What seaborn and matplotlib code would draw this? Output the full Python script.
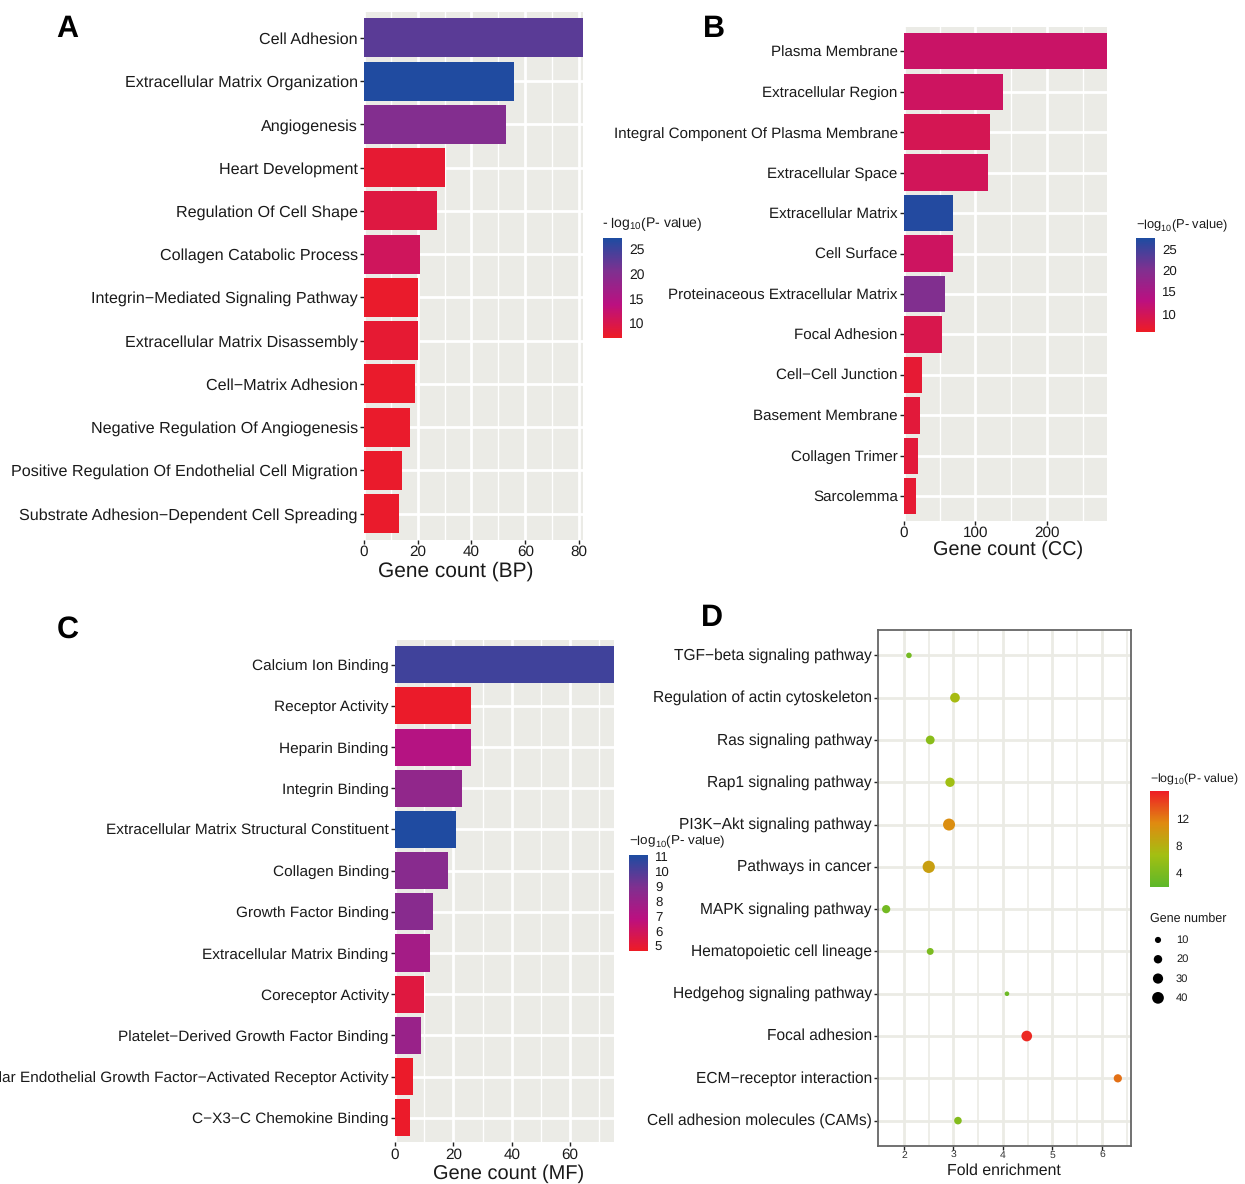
import pandas as pd
import seaborn as sns
import matplotlib.pyplot as plt
from matplotlib.cm import ScalarMappable
from matplotlib.colors import LinearSegmentedColormap, Normalize
from matplotlib.transforms import ScaledTranslation

sns.set_style('white')
plt.rcParams['font.family'] = ['Liberation Sans', 'DejaVu Sans']
plt.rcParams['mathtext.default'] = 'regular'
plt.rcParams['text.hinting'] = 'no_hinting'

W, H = 1245, 1184

# panel A
bp_terms = ['Cell Adhesion', 'Extracellular Matrix Organization', 'Angiogenesis', 'Heart Development',
            'Regulation Of Cell Shape', 'Collagen Catabolic Process', 'Integrin−Mediated Signaling Pathway',
            'Extracellular Matrix Disassembly', 'Cell−Matrix Adhesion', 'Negative Regulation Of Angiogenesis',
            'Positive Regulation Of Endothelial Cell Migration', 'Substrate Adhesion−Dependent Cell Spreading']
bp_counts = [81.5, 56, 53, 30, 27, 21, 20, 20, 19, 17, 14, 13]
bp_logp = [23, 27, 20, 8, 9, 11, 7.5, 8, 7.5, 7.5, 7.5, 7.5]

# panel B
cc_terms = ['Plasma Membrane', 'Extracellular Region', 'Integral Component Of Plasma Membrane',
            'Extracellular Space', 'Extracellular Matrix', 'Cell Surface', 'Proteinaceous Extracellular Matrix',
            'Focal Adhesion', 'Cell−Cell Junction', 'Basement Membrane', 'Collagen Trimer', 'Sarcolemma']
cc_counts = [284, 139, 120, 118, 68, 68, 57, 53, 25, 22, 20, 17]
cc_logp = [11, 10.5, 9.5, 10, 27, 10.5, 20, 9, 7, 7.5, 7.5, 7]

# panel C
mf_terms = ['Calcium Ion Binding', 'Receptor Activity', 'Heparin Binding', 'Integrin Binding',
            'Extracellular Matrix Structural Constituent', 'Collagen Binding', 'Growth Factor Binding',
            'Extracellular Matrix Binding', 'Coreceptor Activity', 'Platelet−Derived Growth Factor Binding',
            'Vascular Endothelial Growth Factor−Activated Receptor Activity', 'C−X3−C Chemokine Binding']
mf_counts = [75, 26, 26, 23, 21, 18, 13, 12, 10, 9, 6, 5]
mf_logp = [10.3, 4.8, 7, 8.3, 11, 8.6, 8.6, 7.6, 5.3, 8, 4.8, 4.8]

# panel D
kegg_terms = ['TGF−beta signaling pathway', 'Regulation of actin cytoskeleton', 'Ras signaling pathway',
              'Rap1 signaling pathway', 'PI3K−Akt signaling pathway', 'Pathways in cancer',
              'MAPK signaling pathway', 'Hematopoietic cell lineage', 'Hedgehog signaling pathway',
              'Focal adhesion', 'ECM−receptor interaction', 'Cell adhesion molecules (CAMs)']
kegg_enrich = [2.1, 3.03, 2.53, 2.93, 2.91, 2.5, 1.64, 2.53, 4.08, 4.48, 6.32, 3.09]
kegg_genes = [8, 27, 22, 25, 42, 44, 19, 13, 5, 33, 19, 16]
kegg_logp = [3.5, 7, 5, 6.5, 11, 9.5, 3.5, 4, 3, 15.5, 12.5, 4.5]
legend_genes = [10, 20, 30, 40]

bar_cmap = LinearSegmentedColormap.from_list('bars', ['#EE1C25', '#BB1080', '#7F3090', '#1D4CA1'])
dot_cmap = LinearSegmentedColormap.from_list('dots', ['#5DB82A', '#A3BF12', '#E08A10', '#EE1C25'])
TXT = '#1a1a1a'


def px_axes(left, top, right, bottom):
    return fig.add_axes([left / W, 1 - bottom / H, (right - left) / W, (bottom - top) / H])


def px_text(x, y, s, **kw):
    kw.setdefault('va', 'center')
    kw.setdefault('color', TXT)
    fig.text(x / W, 1 - y / H, s, **kw)


def bar_panel(box, terms, counts, logp, vmin, vmax, xmax, ticks, minor, xlabel, xlabel_pos, label_size, title_size):
    ax = px_axes(*box)
    norm = Normalize(vmin, vmax)
    df = pd.DataFrame({'term': terms, 'count': counts})
    sns.barplot(data=df, x='count', y='term', hue='term', palette=[bar_cmap(norm(v)) for v in logp],
                dodge=False, legend=False, width=0.9, saturation=1, linewidth=0, ax=ax)
    ax.set_facecolor('#EBEBE6')
    ax.set_axisbelow(True)
    ax.set_xlim(0, xmax)
    ax.set_ylim(11.6, -0.6)
    ax.set_xticks(ticks)
    ax.set_xticks(minor, minor=True)
    ax.grid(True, which='major', color='white', lw=2)
    ax.grid(True, which='minor', axis='x', color='white', lw=1)
    sns.despine(ax=ax, left=True, bottom=True, top=True, right=True)
    ax.tick_params(axis='y', which='major', length=3, width=1, color='#222222', labelsize=label_size,
                   labelcolor=TXT, pad=1.5, left=True)
    ax.tick_params(axis='x', which='major', length=3, width=1, color='#222222', labelsize=11,
                   labelcolor=TXT, pad=1, bottom=True)
    ax.tick_params(axis='x', which='minor', length=0)
    ax.set_xlabel('')
    ax.set_ylabel('')
    px_text(*xlabel_pos, xlabel, fontsize=title_size, ha='center')


def colorbar(box, cmap, vmin, vmax, ticks, title, title_pos, label_size, title_size):
    cax = px_axes(*box)
    cb = fig.colorbar(ScalarMappable(Normalize(vmin, vmax), cmap), cax=cax)
    cb.outline.set_visible(False)
    cb.set_ticks(ticks)
    cax.tick_params(which='both', left=True, right=True, direction='in', length=3, width=0.8,
                    color='white', labelsize=label_size, labelcolor=TXT, pad=5)
    cax.minorticks_off()
    px_text(*title_pos, title, fontsize=title_size)


fig = plt.figure(figsize=(W / 100, H / 100), dpi=100)

bar_panel((364, 12, 583, 539.5), bp_terms, bp_counts, bp_logp, 6.9, 27.3, 81.5,
          [0, 20, 40, 60, 80], [10, 30, 50, 70], 'Gene count (BP)', (456, 571), 11.6, 15)
bar_panel((904, 27, 1107, 520.5), cc_terms, cc_counts, cc_logp, 5.8, 27.5, 284,
          [0, 100, 200], [50, 150, 250], 'Gene count (CC)', (1008, 550), 10.9, 14.3)
bar_panel((395, 640, 614, 1142.4), mf_terms, mf_counts, mf_logp, 4.67, 11.07, 75,
          [0, 20, 40, 60], [10, 30, 50, 70], 'Gene count (MF)', (509, 1174), 11.07, 14.4)

colorbar((603, 238, 622, 338), bar_cmap, 6.9, 27.3, [10, 15, 20, 25], '- log$_{10}$(P- value)', (602, 224), 10, 10.1)
colorbar((1136, 238, 1155, 332), bar_cmap, 5.8, 27.5, [10, 15, 20, 25], '−log$_{10}$(P- value)', (1136, 226), 9.5, 9.3)
colorbar((629, 855, 648, 951), bar_cmap, 4.67, 11.07, [5, 6, 7, 8, 9, 10, 11], '−log$_{10}$(P- value)', (629, 842), 9.5, 9.7)
colorbar((1150, 791, 1169, 887), dot_cmap, 1.93, 16.1, [4, 8, 12], '−log$_{10}$(P- value)', (1150, 779), 8.5, 8.9)

# KEGG dot plot
ax = px_axes(878, 630, 1131, 1146)
kegg = pd.DataFrame({'term': kegg_terms, 'enrich': kegg_enrich, 'genes': kegg_genes, 'logp': kegg_logp})
dot_norm = Normalize(1.93, 16.1)
sns.scatterplot(data=kegg, x='enrich', y='term', size='genes', sizes=(11, 78), size_norm=(5, 44),
                hue='logp', hue_norm=dot_norm, palette=dot_cmap, legend=False, linewidth=0, alpha=1,
                zorder=3, ax=ax)
ax.set_xlim(1.475, 6.586)
ax.set_ylim(11.6, -0.6)
ax.set_xticks([2, 3, 4, 5, 6])
ax.set_xticks([2.5, 3.5, 4.5, 5.5, 6.5], minor=True)
ax.set_axisbelow(True)
ax.grid(True, which='major', color='#EBEBE5', lw=2)
ax.grid(True, which='minor', axis='x', color='#EBEBE5', lw=1.2)
for side in ax.spines.values():
    side.set_visible(True)
    side.set_color('#666666')
    side.set_linewidth(1.3)
ax.tick_params(axis='y', which='major', length=3, width=1, color='#222222', labelsize=11.2,
               labelcolor=TXT, pad=1.5, left=True)
ax.tick_params(axis='x', which='major', length=3, width=1, color='#222222', labelsize=7.5,
               labelcolor='#333333', pad=0.5, bottom=True)
ax.tick_params(axis='x', which='minor', length=0)
# labels sit a little above the rows in the original
lift = ScaledTranslation(0, 1.5 / 100, fig.dpi_scale_trans)
for lab in ax.get_yticklabels():
    lab.set_transform(lab.get_transform() + lift)
ax.set_xlabel('')
ax.set_ylabel('')
px_text(1004, 1171, 'Fold enrichment', fontsize=11.4, ha='center')

# gene number legend
px_text(1150, 919, 'Gene number', fontsize=9)
lax = px_axes(1150, 930.3, 1166, 1007.5)
lax.set_axis_off()
sns.scatterplot(x=[0] * 4, y=[0, 1, 2, 3], size=legend_genes, sizes=(11, 78), size_norm=(5, 44),
                color='black', legend=False, linewidth=0, ax=lax)
lax.set_xlim(-1, 1)
lax.set_ylim(3.5, -0.5)
for i, g in enumerate(legend_genes):
    px_text(1176, 940 + i * 19.3, str(g), fontsize=8)

# panel letters
for letter, x, y in [('A', 56, 29), ('B', 703, 29), ('C', 57, 630), ('D', 701, 618)]:
    px_text(x, y, letter, fontsize=22, fontweight='bold', color='black')

fig.savefig('out.png', dpi=100)
